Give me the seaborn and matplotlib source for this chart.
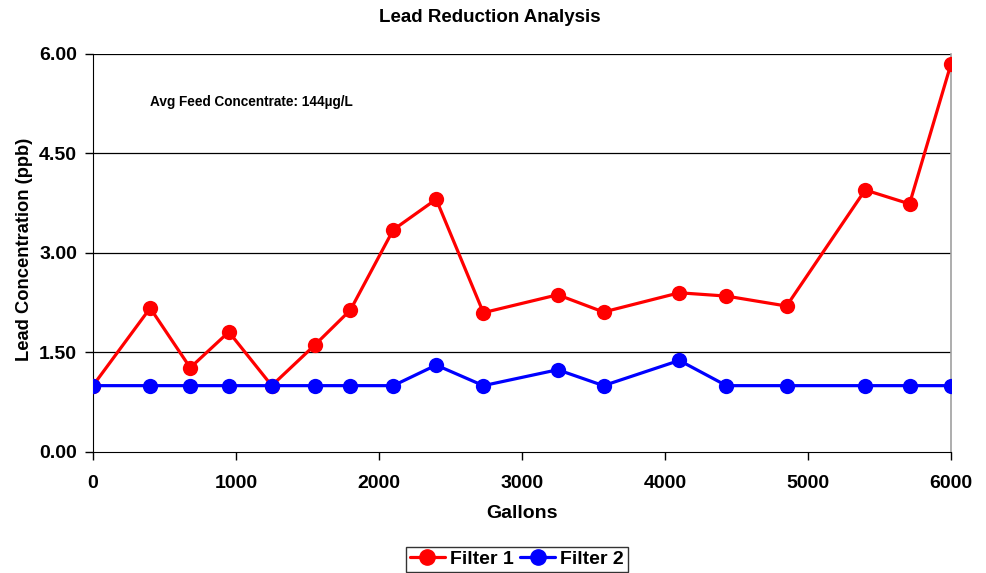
import pandas as pd
import matplotlib
matplotlib.use("Agg")
import matplotlib.pyplot as plt
import seaborn as sns

# --- Data ---
gallons = [0, 400, 680, 950, 1250, 1550, 1800, 2100, 2400, 2730,
           3250, 3570, 4100, 4430, 4850, 5400, 5710, 6000]
filter1 = [1.00, 2.17, 1.27, 1.81, 1.00, 1.61, 2.14, 3.35, 3.81, 2.10,
           2.37, 2.11, 2.40, 2.35, 2.20, 3.95, 3.74, 5.85]
filter2 = [1.00, 1.00, 1.00, 1.00, 1.00, 1.00, 1.00, 1.00, 1.31, 1.00,
           1.24, 1.00, 1.38, 1.00, 1.00, 1.00, 1.00, 1.00]
yticks = [0.0, 1.5, 3.0, 4.5, 6.0]
xticks = [0, 1000, 2000, 3000, 4000, 5000, 6000]

df = pd.DataFrame({"Gallons": gallons * 2,
                   "Lead": filter1 + filter2,
                   "Series": ["Filter 1"] * len(gallons) + ["Filter 2"] * len(gallons)})

# --- Style ---
sns.set_style("white")
plt.rcParams["font.family"] = ["Liberation Sans", "DejaVu Sans"]
plt.rcParams["font.weight"] = "bold"
for key in ["text.color", "axes.labelcolor", "xtick.color", "ytick.color"]:
    plt.rcParams[key] = "black"
plt.rcParams["xtick.bottom"] = True
plt.rcParams["ytick.left"] = True

fig = plt.figure(figsize=(9.86, 5.73), dpi=100)
ax = fig.add_axes([0.0943, 0.2112, 0.8702, 0.6946])

sns.lineplot(data=df, x="Gallons", y="Lead", hue="Series",
             palette={"Filter 1": "#ff0000", "Filter 2": "#0000ff"},
             marker="o", markersize=11, markeredgewidth=0, linewidth=2.3,
             ax=ax, legend=False, zorder=3)

ax.set_xlim(0, 6000)
ax.set_ylim(0, 6)
ax.set_xticks(xticks)
ax.set_yticks(yticks)
ax.set_yticklabels([f"{v:.2f}" for v in yticks])
ax.tick_params(axis="both", direction="out", length=5.5, width=1, colors="black",
               labelsize=14)
ax.tick_params(axis="x", pad=11)
ax.tick_params(axis="y", pad=6)
for lbl in ax.get_xticklabels() + ax.get_yticklabels():
    lbl.set_fontweight("bold")

for v in yticks[1:]:
    ax.axhline(v, color="black", linewidth=0.9, zorder=1)

ax.spines["left"].set_color("black")
ax.spines["bottom"].set_color("black")
ax.spines["top"].set_visible(False)
ax.spines["right"].set_color("#a0a0a0")
ax.spines["right"].set_linewidth(1.2)

ax.set_xlabel("Gallons", fontsize=14, fontweight="bold")
ax.set_ylabel("Lead Concentration (ppb)", fontsize=13.2, fontweight="bold")
ax.xaxis.set_label_coords(0.5, -0.133)
ax.yaxis.set_label_coords(-0.070, 0.51)
fig.text(0.497, 1 - 18 / 573, "Lead Reduction Analysis", ha="center", va="center",
         fontsize=13.5, fontweight="bold")

ax.text(400, 5.28, "Avg Feed Concentrate: 144µg/L", fontsize=9.8, fontweight="bold",
        va="center", ha="left")

handles = [plt.Line2D([], [], color="#ff0000", marker="o", markersize=11, linewidth=2.3),
           plt.Line2D([], [], color="#0000ff", marker="o", markersize=11, linewidth=2.3)]
leg = fig.legend(handles, ["Filter 1", "Filter 2"], loc="lower center",
                 bbox_to_anchor=(0.524, 0.0), ncol=2, frameon=True, fancybox=False,
                 edgecolor="black", prop={"size": 14, "weight": "bold"},
                 handlelength=1.8, handletextpad=0.25, columnspacing=0.35,
                 borderpad=0.2, borderaxespad=0.05)
leg.get_frame().set_linewidth(1.0)

fig.savefig("out.png", dpi=100)
